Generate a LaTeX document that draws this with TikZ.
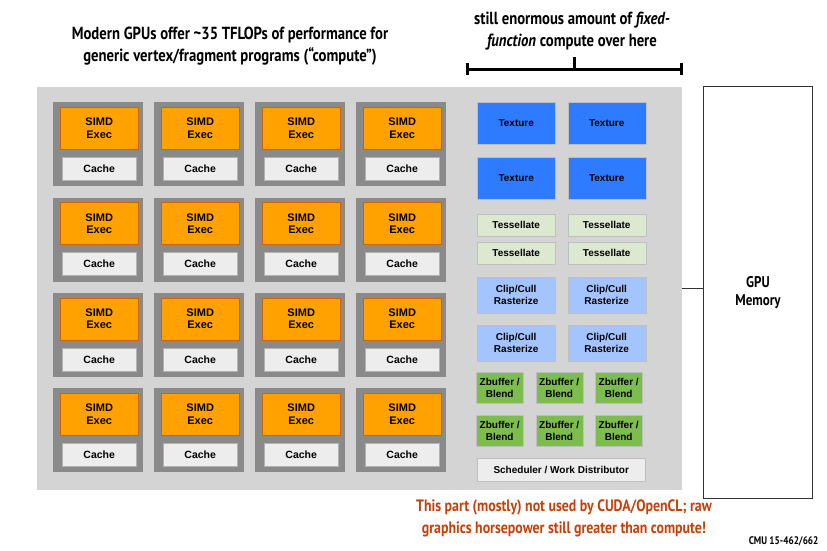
\documentclass[tikz,border=0pt]{standalone}
\usepackage{fontspec}
\setmainfont{Liberation Sans}
\newfontfamily\condfont[FakeStretch=0.84]{PT Sans}
\usepackage{tikz}
\usetikzlibrary{positioning,calc}
\definecolor{chipgray}{HTML}{D4D4D4}
\definecolor{tilegray}{HTML}{8A8A8A}
\definecolor{execorange}{HTML}{FFA200}
\definecolor{cachewhite}{HTML}{EDEDED}
\definecolor{texblue}{HTML}{2F7BFF}
\definecolor{tessgreen}{HTML}{DDE8D0}
\definecolor{clipblue}{HTML}{A4C4FF}
\definecolor{zbgreen}{HTML}{7DBC4E}
\definecolor{notered}{HTML}{C2410C}

\begin{document}
\begin{tikzpicture}[x=1pt,y=-1pt]
    \tikzstyle{tile}=[fill=tilegray, minimum width=90pt, minimum height=84pt, inner sep=0pt, anchor=north west];
    \tikzstyle{exec}=[draw=orange!80!black, fill=execorange, minimum width=78pt, minimum height=42pt, inner sep=0pt, anchor=north west, align=center, font=\fontsize{11}{12.5}\selectfont\bfseries];
    \tikzstyle{cache}=[draw=black!30, fill=cachewhite, minimum width=74pt, minimum height=23pt, inner sep=0pt, anchor=north west, font=\fontsize{10.5}{12}\selectfont\bfseries];
    \tikzstyle{unit}=[draw=black!25, minimum height=42pt, minimum width=78pt, inner sep=0pt, anchor=north west, align=center, font=\fontsize{10}{12}\selectfont\bfseries];
    \tikzstyle{note}=[font=\condfont\fontsize{17.5}{22}\selectfont\bfseries, align=center];

    \useasboundingbox (0,0) rectangle (827,550);

    \node[fill=chipgray, minimum width=645pt, minimum height=403pt, inner sep=0pt, anchor=north west] (chip) at (37,87) {};

    \foreach \r in {0,...,3} {
        \foreach \c in {0,...,3} {
            \node[tile] (tile-\r-\c) at (53+101*\c,102+95.3*\r) {};
            \node[exec] (exec-\r-\c) at (60+101*\c,107+95.3*\r) {SIMD\\Exec};
            \node[cache] (cache-\r-\c) at (62+101*\c,157+95.3*\r) {Cache};
        }
    }

    \foreach \c in {0,1} {
        \node[unit, fill=texblue] (tex-a-\c) at (477+90.5*\c,102) {Texture};
        \node[unit, fill=texblue] (tex-b-\c) at (477+90.5*\c,157) {Texture};
        \node[unit, fill=tessgreen, minimum height=22pt] (tess-a-\c) at (477+90.5*\c,214) {Tessellate};
        \node[unit, fill=tessgreen, minimum height=22pt] (tess-b-\c) at (477+90.5*\c,242) {Tessellate};
        \node[unit, fill=clipblue, minimum height=36pt] (clip-a-\c) at (477+90.5*\c,277) {Clip/Cull\\Rasterize};
        \node[unit, fill=clipblue, minimum height=36pt] (clip-b-\c) at (477+90.5*\c,325) {Clip/Cull\\Rasterize};
    }
    \foreach \c in {0,1,2} {
        \node[unit, fill=zbgreen, minimum width=47pt, minimum height=31pt] (zb-a-\c) at (476+59.5*\c,372) {Zbuffer /\\Blend};
        \node[unit, fill=zbgreen, minimum width=47pt, minimum height=31pt] (zb-b-\c) at (476+59.5*\c,415) {Zbuffer /\\Blend};
    }
    \node[unit, fill=cachewhite, minimum width=168pt, minimum height=23pt] (sched) at (477,458) {Scheduler / Work Distributor};

    \node[draw=black!80, line width=1pt, fill=white, minimum width=109pt, minimum height=412pt, inner sep=0pt, anchor=north west, align=center, font=\condfont\fontsize{15.5}{18}\selectfont\bfseries] (mem) at (703,86) {GPU\\Memory};
    \draw[black!80, line width=1pt] (chip.east) -- (chip.east -| mem.west);

    \node[note] (compute) at (230,46) {Modern GPUs offer \textasciitilde35 TFLOPs of performance for\\generic vertex/fragment programs (“compute”)};
    \node[note] (fixed) at (572,31) {still enormous amount of \textit{fixed-}\\\textit{function} compute over here};

    \coordinate (brl) at (467,69);
    \coordinate (brr) at (681,69);
    \draw[line width=3pt] (brl) -- (brr);
    \draw[line width=3pt] ([yshift=-6pt]brl) -- ([yshift=6pt]brl);
    \draw[line width=3pt] ([yshift=-6pt]brr) -- ([yshift=6pt]brr);
    \draw[line width=3pt] ($(brl)!0.5!(brr)$) -- ++(0,-12);

    \node[note, text=notered, font=\condfont\fontsize{16.5}{22}\selectfont\bfseries] (warn) at (564,518) {This part (mostly) not used by CUDA/OpenCL; raw\\graphics horsepower still greater than compute!};
    \node[font=\condfont\fontsize{11}{12}\selectfont\bfseries, anchor=east] (cmu) at (822,541) {CMU 15-462/662};
\end{tikzpicture}
\end{document}
